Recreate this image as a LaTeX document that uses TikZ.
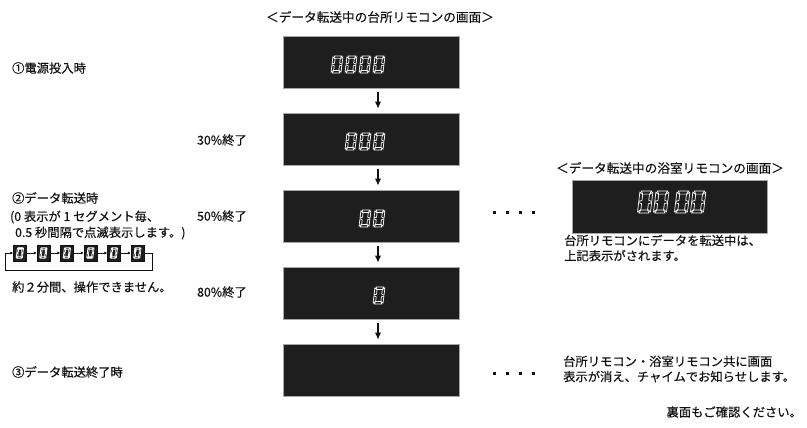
\documentclass[tikz,border=0pt]{standalone}
\usepackage{fontspec}
\setmainfont{Noto Sans CJK JP}[FakeBold=0.3]
\usetikzlibrary{arrows.meta}

\definecolor{panel}{HTML}{1E1E1E}
\definecolor{ink}{HTML}{111111}

% seven segment "0", segment #1 lit (0 = none)
\tikzset{
  pics/zero/.style={code={
    \begin{scope}[xslant=0.12]
    \foreach \ax/\ay/\bx/\by/\cx/\cy/\dx/\dy [count=\i] in {
        1/0/9/0/7.6/2.4/2.4/2.4,
        10/0.8/10/8.1/7.6/7.2/7.6/2.8,
        10/8.9/10/16.2/7.6/14.2/7.6/9.8,
        9/17/1/17/2.4/14.6/7.6/14.6,
        0/16.2/0/8.9/2.4/9.8/2.4/14.2,
        0/8.1/0/0.8/2.4/2.8/2.4/7.2} {
      \ifnum\i=#1 \def\segfill{white}\else\def\segfill{none}\fi
      \path[draw=white, line width=0.6pt, fill=\segfill, line join=round]
        (\ax,\ay) -- (\bx,\by) -- (\cx,\cy) -- (\dx,\dy) -- cycle;
    }
    \end{scope}
  }}
}

\begin{document}
\begin{tikzpicture}[x=0.03cm, y=-0.03cm, font=\fontsize{10.5pt}{13pt}\selectfont, text=ink,
    screen/.style={fill=panel, draw=gray!70, line width=0.5pt, inner sep=0pt,
      minimum width=5.28cm, minimum height=1.56cm},
    flow/.style={-{Latex[length=6pt,width=5.5pt]}, line width=1.5pt, ink},
    frame/.style={fill=panel, draw=ink, line width=0.4pt, inner sep=0pt,
      minimum width=0.39cm, minimum height=0.48cm},
    step arrow/.style={-{Latex[length=2.5pt,width=2.5pt]}, line width=0.5pt, ink}]
  \useasboundingbox (0,0) rectangle (807,428);

  % kitchen remote screens
  \node[font=\fontsize{10.8pt}{13pt}\selectfont] (title) at (380,17) {＜データ転送中の台所リモコンの画面＞};
  \node[screen] (s1) at (371,62) {};
  \node[screen] (s2) at (371,139) {};
  \node[screen] (s3) at (371,216) {};
  \node[screen] (s4) at (371,293) {};
  \node[screen] (s5) at (371,370) {};

  \foreach \n/\yy in {4/56, 3/133, 2/210, 1/287}
    \foreach \d in {1,...,\n}
      \pic at ({389-14*\d},\yy) {zero=0};

  \draw[flow] ([xshift=0.21cm, yshift=-0.12cm]s1.south) -- ([xshift=0.21cm, yshift=0.12cm]s2.north);
  \draw[flow] ([xshift=0.21cm, yshift=-0.12cm]s2.south) -- ([xshift=0.21cm, yshift=0.12cm]s3.north);
  \draw[flow] ([xshift=0.21cm, yshift=-0.12cm]s3.south) -- ([xshift=0.21cm, yshift=0.12cm]s4.north);
  \draw[flow] ([xshift=0.21cm, yshift=-0.12cm]s4.south) -- ([xshift=0.21cm, yshift=0.12cm]s5.north);

  % left labels
  \node[anchor=west] (power) at (8,68) {①電源投入時};
  \node[anchor=west] (p30) at (193,140) {30\%終了};
  \node[anchor=west] (p50) at (193,216) {50\%終了};
  \node[anchor=west] (p80) at (193,292) {80\%終了};
  \node[anchor=west] (xfer) at (8,198) {②データ転送時};
  \node[anchor=west] (note1) at (6,217) {(0 表示が 1 セグメント毎、};
  \node[anchor=west] (note2) at (11,233) {0.5 秒間隔で点滅表示します。)};
  \node[anchor=west] (wait) at (8,287) {約２分間、操作できません。};
  \node[anchor=west] (done) at (8,372) {③データ転送終了時};

  % blinking segments
  \foreach \k in {1,...,6} {
    \node[frame] (b\k) at ({20+23.5*(\k-1)},253) {};
    \pic[scale=0.62] at ({20+23.5*(\k-1)-2.6},247.7) {zero=\k};
  }
  \foreach \a/\b in {1/2, 2/3, 3/4, 4/5, 5/6}
    \draw[step arrow] (b\a) -- (b\b);
  \coordinate (loopR) at (152,270);
  \coordinate (loopL) at (5,270);
  \draw[step arrow] (b6.east) -| (loopR) -- (loopL) |- (b1.west);

  % dots
  \foreach \x in {494,507,520,533} {
    \fill[ink] (\x-1.5,211.5) rectangle ++(3,3);
    \fill[ink] (\x-1.5,371.5) rectangle ++(3,3);
  }

  % bath remote screen
  \node[font=\fontsize{10.8pt}{13pt}\selectfont] (btitle) at (670,168) {＜データ転送中の浴室リモコンの画面＞};
  \node[screen, minimum width=5.85cm, minimum height=1.59cm] (bath) at (669.5,206.5) {};
  \foreach \x in {640,656,677,693}
    \pic[scale=1.3] at (\x,191) {zero=0};
  \node[anchor=west, align=left] (bnote) at (560,248) {台所リモコンにデータを転送中は、\\上記表示がされます。};

  \node[anchor=west, align=left] (endnote) at (559,369) {台所リモコン・浴室リモコン共に画面\\表示が消え、チャイムでお知らせします。};
  \node[anchor=east] (back) at (806,412) {裏面もご確認ください。};
\end{tikzpicture}
\end{document}
